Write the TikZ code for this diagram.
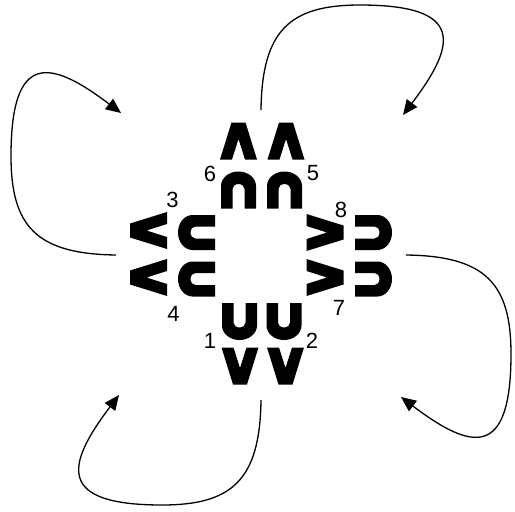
\documentclass[tikz,border=0pt]{standalone}
\usepackage{fontspec}
\setmainfont{Liberation Sans}
\usetikzlibrary{arrows.meta}
\tikzset{
  Uglyph/.pic={\fill[black] (-17.5,-18.5) -- (-17.5,4) .. controls (-17.5,12) and (-9.7,18.5) .. (0,18.5) .. controls (9.7,18.5) and (17.5,12) .. (17.5,4) -- (17.5,-18.5) -- (6,-18.5) -- (6,1) .. controls (6,3.8) and (3.3,6) .. (0,6) .. controls (-3.3,6) and (-6,3.8) .. (-6,1) -- (-6,-18.5) -- cycle;},
  Vglyph/.pic={\fill[black] (-18.5,-18.5) -- (-6.5,-18.5) -- (0,2) -- (6.5,-18.5) -- (18.5,-18.5) -- (7,18.5) -- (-7,18.5) -- cycle;},
  num/.style={font=\fontsize{22}{24}\selectfont, inner sep=0pt},
  loop/.style={line width=1.3pt, -{Triangle[length=15pt,width=13pt]}}
}
\begin{document}
\begin{tikzpicture}[x=1pt,y=-1pt]
\useasboundingbox (0,0) rectangle (515,512);
% top group
\pic[rotate=180] at (238.5,141) {Vglyph};
\pic[rotate=180] at (286,141) {Vglyph};
\pic[rotate=180] at (238.5,190) {Uglyph};
\pic[rotate=180] at (284.5,190) {Uglyph};
% bottom group
\pic at (239.5,321.5) {Uglyph};
\pic at (284,321.5) {Uglyph};
\pic at (240,366) {Vglyph};
\pic at (285.5,366) {Vglyph};
% left group
\pic[rotate=-90] at (148.5,230.5) {Vglyph};
\pic[rotate=-90] at (148.5,277.5) {Vglyph};
\pic[rotate=-90] at (196.5,232.5) {Uglyph};
\pic[rotate=-90] at (196.5,279) {Uglyph};
% right group
\pic[rotate=90] at (325,232.5) {Vglyph};
\pic[rotate=90] at (325,277.5) {Vglyph};
\pic[rotate=90] at (373.5,232.5) {Uglyph};
\pic[rotate=90] at (373.5,279) {Uglyph};
% labels
\node[num] (n1) at (210,341) {1};
\node[num] (n2) at (312,341) {2};
\node[num] (n3) at (172.5,200) {3};
\node[num] (n4) at (173.5,313.5) {4};
\node[num] (n5) at (313,173) {5};
\node[num] (n6) at (210,173.5) {6};
\node[num] (n7) at (339,308) {7};
\node[num] (n8) at (341,210) {8};
% loops
\foreach \k/\a in {1/0,2/-90,3/-180,4/-270}{
  \begin{scope}[rotate around={\a:(261,255)}]
    \coordinate (s\k) at (261,110);
    \coordinate (t\k) at (403,115);
    \draw[loop] (s\k) .. controls (262,30) and (290,5) .. (360,5) .. controls (466,5) and (456,45) .. (t\k);
  \end{scope}
}
\end{tikzpicture}
\end{document}
